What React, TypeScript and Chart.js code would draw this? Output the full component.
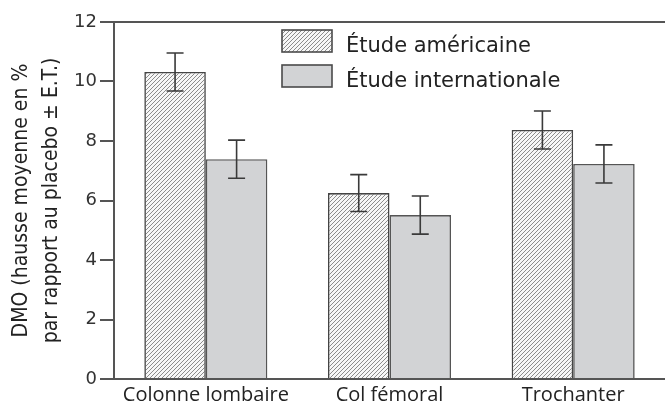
import React, { useEffect, useRef } from "react";
import { Chart, registerables } from "chart.js";

Chart.register(...registerables);

const categories = ["Colonne lombaire", "Col fémoral", "Trochanter"];
const seriesLabels = ["Étude américaine", "Étude internationale"];
const americanValues = [10.32, 6.25, 8.37];
const americanErrors = [0.64, 0.62, 0.64];
const internationalValues = [7.39, 5.51, 7.23];
const internationalErrors = [0.64, 0.64, 0.64];
const yTicks = [0, 2, 4, 6, 8, 10, 12];
const yTitle = ["DMO (hausse moyenne en %", "par rapport au placebo ± E.T.)"];

function makeHatch(): CanvasPattern | string {
  const s = 4;
  const c = document.createElement("canvas");
  c.width = s;
  c.height = s;
  const g = c.getContext("2d");
  if (!g) return "#ccc";
  g.fillStyle = "#f7f7f7";
  g.fillRect(0, 0, s, s);
  g.strokeStyle = "#8c8c8c";
  g.lineWidth = 1;
  g.beginPath();
  g.moveTo(0, s);
  g.lineTo(s, 0);
  g.moveTo(-1, 1);
  g.lineTo(1, -1);
  g.moveTo(s - 1, s + 1);
  g.lineTo(s + 1, s - 1);
  g.stroke();
  const p = g.createPattern(c, "repeat");
  return p || "#ccc";
}

const errorBarPlugin = {
  id: "errorBars",
  afterDatasetsDraw(chart: any) {
    const ctx = chart.ctx;
    const y = chart.scales.y;
    const errs = [americanErrors, internationalErrors];
    const vals = [americanValues, internationalValues];
    ctx.save();
    ctx.strokeStyle = "#3a3a3a";
    ctx.lineWidth = 1.6;
    chart.data.datasets.forEach((ds: any, di: number) => {
      const meta = chart.getDatasetMeta(di);
      meta.data.forEach((el: any, i: number) => {
        const v = vals[di][i];
        const e = errs[di][i];
        const top = y.getPixelForValue(v + e);
        const bot = y.getPixelForValue(v - e);
        const x = el.x;
        const cap = 8.5;
        ctx.beginPath();
        ctx.moveTo(x, top);
        ctx.lineTo(x, bot);
        ctx.moveTo(x - cap, top);
        ctx.lineTo(x + cap, top);
        ctx.moveTo(x - cap, bot);
        ctx.lineTo(x + cap, bot);
        ctx.stroke();
      });
    });
    ctx.restore();
  },
};

const legendPlugin = {
  id: "customLegend",
  afterDraw(chart: any) {
    const ctx = chart.ctx;
    const area = chart.chartArea;
    const x0 = area.left + 168;
    const y0 = area.top + 8;
    ctx.save();
    chart.data.datasets.forEach((ds: any, i: number) => {
      const by = y0 + i * 35;
      ctx.fillStyle = ds.backgroundColor;
      ctx.fillRect(x0, by, 50, 22);
      ctx.strokeStyle = "#4a4a4a";
      ctx.lineWidth = 1.6;
      ctx.strokeRect(x0, by, 50, 22);
      ctx.fillStyle = "#222";
      ctx.font = "21px 'DejaVu Sans', sans-serif";
      ctx.textBaseline = "alphabetic";
      ctx.textAlign = "left";
      ctx.fillText(ds.label, x0 + 64, by + 22);
    });
    ctx.restore();
  },
};

export default function App() {
  const ref = useRef<HTMLCanvasElement | null>(null);

  useEffect(() => {
    if (!ref.current) return;
    const hatch = makeHatch();
    const chart = new Chart(ref.current, {
      type: "bar",
      data: {
        labels: categories,
        datasets: [
          {
            label: seriesLabels[0],
            data: americanValues,
            backgroundColor: hatch as any,
            borderColor: "#444",
            borderWidth: 1.6,
            categoryPercentage: 0.67,
            barPercentage: 1,
          },
          {
            label: seriesLabels[1],
            data: internationalValues,
            backgroundColor: "#d2d3d5",
            borderColor: "#555",
            borderWidth: 1.6,
            categoryPercentage: 0.67,
            barPercentage: 1,
          },
        ],
      },
      options: {
        responsive: false,
        animation: false,
        layout: { padding: { left: 0, right: 0, top: 22, bottom: 0 } },
        plugins: {
          legend: { display: false },
          tooltip: { enabled: false },
        },
        scales: {
          x: {
            grid: { display: false },
            border: { display: true, color: "#555", width: 2 },
            ticks: {
              color: "#222",
              padding: -4,
              font: { family: "'Open Sans', sans-serif", size: 20, lineHeight: 1.2 },
              maxRotation: 0,
            },
            afterFit(scale: any) {
              scale.height = 26;
            },
          },
          y: {
            min: 0,
            max: 12,
            afterBuildTicks(scale: any) {
              scale.ticks = yTicks.map((v) => ({ value: v }));
            },
            grid: {
              drawOnChartArea: true,
              color: (c: any) => (c.tick && c.tick.value === 12 ? "#555" : "rgba(0,0,0,0)"),
              tickColor: "#555",
              tickLength: 14,
              lineWidth: 2,
            },
            border: { display: true, color: "#555", width: 2 },
            ticks: {
              color: "#333",
              padding: 3,
              font: { family: "'DejaVu Sans', sans-serif", size: 18 },
            },
            title: {
              display: true,
              text: yTitle,
              color: "#222",
              padding: { top: 6, bottom: 0 },
              font: { family: "'Liberation Sans Narrow', 'DejaVu Sans Condensed', sans-serif", size: 21, lineHeight: 1.45 },
            },
            afterFit(scale: any) {
              scale.width = 114;
            },
          },
        },
      },
      plugins: [errorBarPlugin, legendPlugin],
    });
    return () => chart.destroy();
  }, []);

  return (
    <div style={{ position: "absolute", left: 0, top: 0, width: 665, height: 405, background: "#fff" }}>
      <canvas ref={ref} width={665} height={405} />
    </div>
  );
}
